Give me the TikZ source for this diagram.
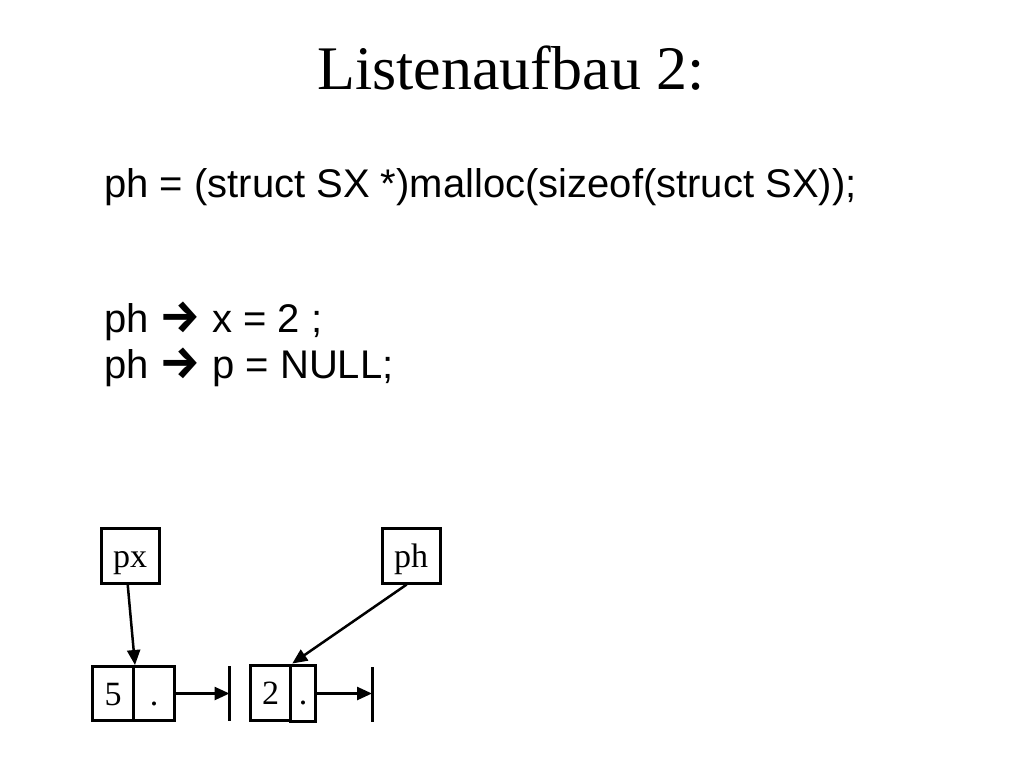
\documentclass[tikz,border=0pt]{standalone}
\usepackage{fontspec}
\setmainfont{Liberation Serif}
\newfontfamily\codefont{Liberation Sans}
\newfontfamily\arrfont{Fira Sans Bold}
\newcommand\ptrarrow{{\arrfont\fontsize{46}{46}\selectfont →}}
\usetikzlibrary{arrows.meta}
\begin{document}
\begin{tikzpicture}[x=1pt,y=-1pt,
  cell/.style={draw,line width=3pt,rectangle,inner sep=0pt,text height=23pt,text depth=0pt,font=\fontsize{34}{40}\selectfont},
  codeline/.style={anchor=base west,inner sep=0pt,font=\codefont\fontsize{40}{48}\selectfont},
  ptr/.style={line width=2.5pt,-{Triangle[length=15pt,width=13pt]}},
  bar/.style={line width=3pt}]
\useasboundingbox (0,0) rectangle (1024,768);
\node[anchor=base,inner sep=0pt,font=\fontsize{62}{70}\selectfont] (title) at (511,89) {Listenaufbau 2:};
\node[codeline] (l1) at (104,197) {ph = (struct SX *)malloc(sizeof(struct SX));};
\node[codeline] (l2) at (104,332) {ph \ptrarrow{} x = 2 ;};
\node[codeline] (l3) at (104,378) {ph \ptrarrow{} p = NULL;};
% pointer boxes
\node[cell,minimum width=58pt,minimum height=55pt] (px) at (130,555.5) {px};
\node[cell,minimum width=58pt,minimum height=55pt] (ph) at (411,555.5) {ph};
% list elements
\node[cell,minimum width=41pt,minimum height=54pt] (c5) at (113,693.5) {5};
\node[cell,minimum width=41pt,minimum height=54pt] (d5) at (154,693.5) {.};
\node[cell,minimum width=40.5pt,minimum height=55pt] (c2) at (270.5,692.5) {2};
\node[cell,minimum width=24.5pt,minimum height=56pt] (d2) at (303,693) {.};
% null bars
\coordinate (b1) at (229.5,693.5);
\coordinate (b1t) at (229.5,666);
\coordinate (b1b) at (229.5,721);
\coordinate (b2) at (372,693.5);
\coordinate (b2t) at (372,667);
\coordinate (b2b) at (372,722);
\draw[bar] (b1t) -- (b1b);
\draw[bar] (b2t) -- (b2b);
\draw[ptr] (d5.east) -- (b1);
\draw[ptr] (d2.east |- b2) -- (b2);
\draw[ptr] ([xshift=-2.3pt]px.south) -- (c5.north east);
\draw[ptr] ([xshift=-4.3pt]ph.south) -- (c2.north east);
\end{tikzpicture}
\end{document}
